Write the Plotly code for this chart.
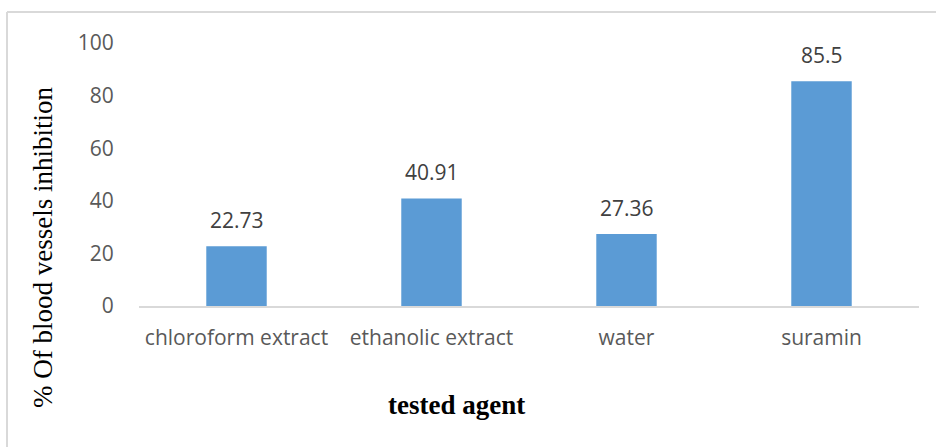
import plotly.graph_objects as go

# Data
agents = ["chloroform extract", "ethanolic extract", "water", "suramin"]
inhibition = [22.73, 40.91, 27.36, 85.5]
y_ticks = [0, 20, 40, 60, 80, 100]

BAR_COLOR = "#5B9BD5"
LABEL_FONT = "'Open Sans', sans-serif"
SERIF = "'Liberation Serif', 'Times New Roman', serif"

fig = go.Figure()
fig.add_trace(go.Bar(
    x=agents,
    y=inhibition,
    marker=dict(color=BAR_COLOR, line=dict(width=0)),
    width=0.31,
    hoverinfo="x+y",
))

# value labels above bars
for a, v in zip(agents, inhibition):
    fig.add_annotation(
        x=a, y=v, text=f"{v:g}", showarrow=False,
        yshift=26, font=dict(family=LABEL_FONT, size=21, color="#404040"),
    )

# plot-area geometry in pixels (for frame lines and titles)
L, R, T, B = 139, 17, 43, 141
W, H = 936, 447
pw, ph = W - L - R, H - T - B


def px_to_paper_x(px):
    return (px - L) / pw


def px_to_paper_y(py):
    return (H - B - py) / ph


frame = dict(color="#d9d9d9", width=2)
fig.add_shape(type="line", xref="paper", yref="paper",
              x0=px_to_paper_x(7), x1=px_to_paper_x(7),
              y0=px_to_paper_y(12), y1=px_to_paper_y(447), line=frame)
fig.add_shape(type="line", xref="paper", yref="paper",
              x0=px_to_paper_x(7), x1=px_to_paper_x(936),
              y0=px_to_paper_y(12), y1=px_to_paper_y(12), line=frame)

# axis titles
fig.add_annotation(
    xref="paper", yref="paper",
    x=px_to_paper_x(456), y=px_to_paper_y(405),
    xanchor="center", yanchor="middle", showarrow=False,
    text="<b>tested agent</b>",
    font=dict(family=SERIF, size=27, color="black"),
)
fig.add_annotation(
    xref="paper", yref="paper",
    x=px_to_paper_x(43), y=px_to_paper_y(248),
    xanchor="center", yanchor="middle", showarrow=False, textangle=-90,
    text="% Of blood vessels inhibition",
    font=dict(family=SERIF, size=27, color="black"),
)

fig.update_layout(
    width=W, height=H,
    margin=dict(l=L, r=R, t=T, b=B, pad=0),
    paper_bgcolor="white", plot_bgcolor="white",
    showlegend=False,
    xaxis=dict(
        showgrid=False, zeroline=False,
        showline=True, linecolor="#d9d9d9", linewidth=2,
        ticks="outside", ticklen=12, tickcolor="rgba(0,0,0,0)",
        tickfont=dict(family=LABEL_FONT, size=21, color="#595959"),
    ),
    yaxis=dict(
        range=[0, 100], tickvals=y_ticks,
        showgrid=False, zeroline=False, showline=False,
        ticks="outside", ticklen=20, tickcolor="rgba(0,0,0,0)",
        tickfont=dict(family=LABEL_FONT, size=21, color="#595959"),
    ),
)

fig.write_html("out.html")
